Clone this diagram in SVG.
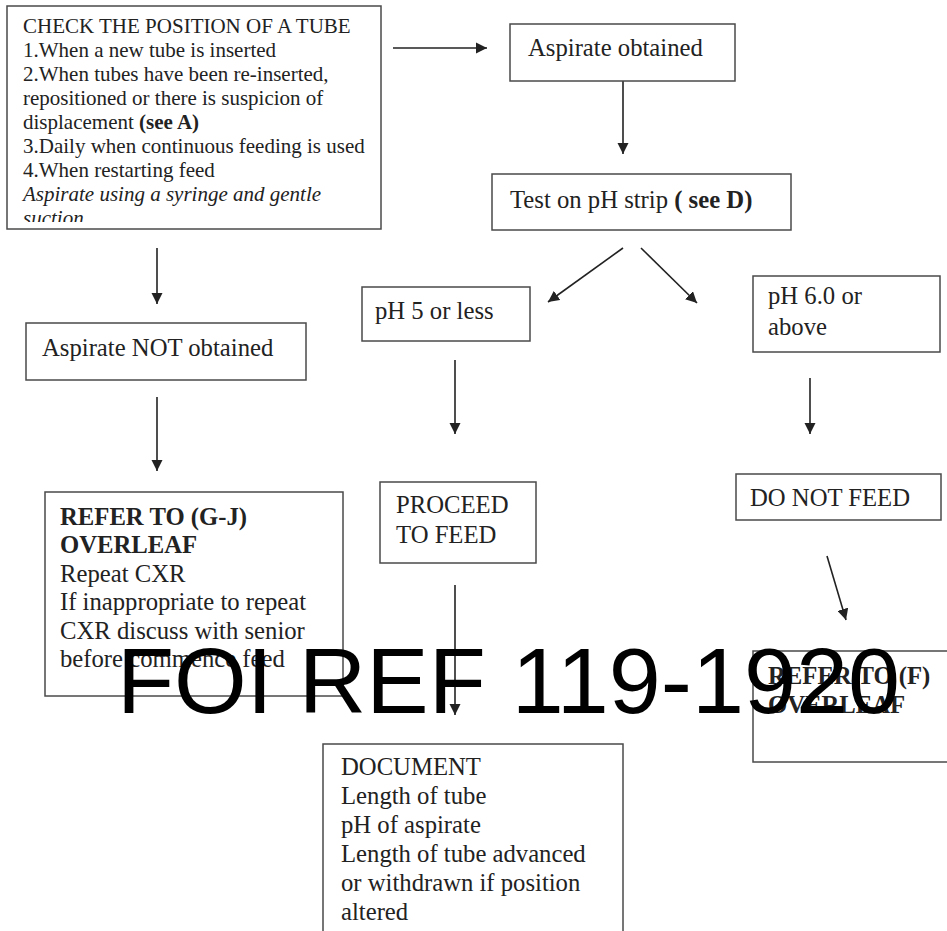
<svg xmlns="http://www.w3.org/2000/svg" width="947" height="931" viewBox="0 0 947 931">
  <style>
    .box { fill: #fff; stroke: #4a4a4a; stroke-width: 1.5; }
    .t { font-family: "Liberation Serif", "Times New Roman", serif; fill: #222; font-size: 24.7px; }
    .s { font-size: 21px; }
    .b { font-weight: bold; }
    .i { font-style: italic; }
    .wire { stroke: #222; stroke-width: 1.6; fill: none; marker-end: url(#head); }
    .mark { font-family: "Liberation Sans", Arial, sans-serif; font-size: 93.5px; fill: #000; }
  </style>
  <defs>
    <marker id="head" viewBox="0 0 10 10" refX="10" refY="5" markerWidth="7" markerHeight="7" markerUnits="strokeWidth" orient="auto">
      <path d="M0,0 L10,5 L0,10 z" fill="#222"/>
    </marker>
    <clipPath id="checkClip">
      <rect x="7" y="6" width="374" height="216"/>
    </clipPath>
  </defs>

  <rect width="947" height="931" fill="#fff"/>

  <!-- connectors -->
  <g id="connectors">
    <line class="wire" x1="393" y1="48" x2="487" y2="48"/>
    <line class="wire" x1="623" y1="81" x2="623" y2="154"/>
    <line class="wire" x1="157" y1="248" x2="157" y2="304"/>
    <line class="wire" x1="157" y1="397" x2="157" y2="471"/>
    <line class="wire" x1="623" y1="248" x2="548" y2="302"/>
    <line class="wire" x1="641" y1="248" x2="697" y2="303"/>
    <line class="wire" x1="455" y1="360" x2="455" y2="434"/>
    <line class="wire" x1="810" y1="378" x2="810" y2="434"/>
    <line class="wire" x1="455" y1="585" x2="455" y2="715"/>
    <line class="wire" x1="827" y1="556" x2="846" y2="620"/>
  </g>

  <g id="check-position">
    <rect class="box" x="7" y="6" width="374" height="223"/>
    <g clip-path="url(#checkClip)">
      <text class="t s" x="23" y="33">CHECK THE POSITION OF A TUBE</text>
      <text class="t s" x="23" y="57">1.When a new tube is inserted</text>
      <text class="t s" x="23" y="81">2.When tubes have been re-inserted,</text>
      <text class="t s" x="23" y="105">repositioned or there is suspicion of</text>
      <text class="t s" x="23" y="129">displacement <tspan class="b">(see A)</tspan></text>
      <text class="t s" x="23" y="153">3.Daily when continuous feeding is used</text>
      <text class="t s" x="23" y="177">4.When restarting feed</text>
      <text class="t s i" x="23" y="201">Aspirate using a syringe and gentle</text>
      <text class="t s i" x="23" y="225">suction</text>
    </g>
  </g>

  <g id="aspirate-obtained">
    <rect class="box" x="510" y="24" width="225" height="57"/>
    <text class="t" x="528" y="56">Aspirate obtained</text>
  </g>

  <g id="test-ph">
    <rect class="box" x="492" y="174" width="299" height="56"/>
    <text class="t" x="510" y="208">Test on pH strip <tspan class="b">( see D)</tspan></text>
  </g>

  <g id="aspirate-not-obtained">
    <rect class="box" x="26" y="323" width="280" height="57"/>
    <text class="t" x="42" y="356">Aspirate NOT obtained</text>
  </g>

  <g id="ph-low">
    <rect class="box" x="362" y="287" width="168" height="54"/>
    <text class="t" x="375" y="319">pH 5 or less</text>
  </g>

  <g id="ph-high">
    <rect class="box" x="753" y="276" width="187" height="76"/>
    <text class="t" x="768" y="304">pH 6.0 or</text>
    <text class="t" x="768" y="335">above</text>
  </g>

  <g id="refer-gj">
    <rect class="box" x="45" y="492" width="298" height="204"/>
    <text class="t b" x="60" y="525">REFER TO (G-J)</text>
    <text class="t b" x="60" y="553">OVERLEAF</text>
    <text class="t" x="60" y="582">Repeat CXR</text>
    <text class="t" x="60" y="610">If inappropriate to repeat</text>
    <text class="t" x="60" y="639">CXR discuss with senior</text>
    <text class="t" x="60" y="667">before commence feed</text>
  </g>

  <g id="proceed">
    <rect class="box" x="380" y="482" width="156" height="81"/>
    <text class="t" x="396" y="513">PROCEED</text>
    <text class="t" x="396" y="543">TO FEED</text>
  </g>

  <g id="do-not-feed">
    <rect class="box" x="736" y="474" width="205" height="46"/>
    <text class="t" x="750" y="506">DO NOT FEED</text>
  </g>

  <g id="refer-f">
    <rect class="box" x="753" y="651" width="200" height="111"/>
    <text class="t b" x="768" y="684">REFER TO (F)</text>
    <text class="t b" x="768" y="713">OVERLEAF</text>
  </g>

  <g id="document">
    <rect class="box" x="323" y="744" width="300" height="200"/>
    <text class="t" x="341" y="775">DOCUMENT</text>
    <text class="t" x="341" y="804">Length of tube</text>
    <text class="t" x="341" y="833">pH of aspirate</text>
    <text class="t" x="341" y="862">Length of tube advanced</text>
    <text class="t" x="341" y="891">or withdrawn if position</text>
    <text class="t" x="341" y="920">altered</text>
  </g>

  <!-- reference stamp printed over the chart -->
  <text class="mark" x="117" y="713">FOI REF 119-1920</text>
</svg>
